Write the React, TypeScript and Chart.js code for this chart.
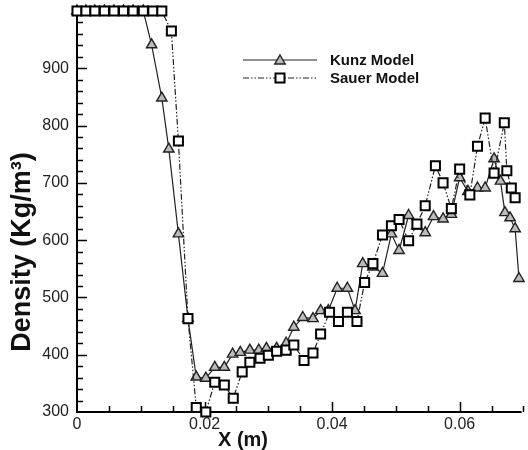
import React, { useEffect, useRef } from 'react';
import { Chart, registerables } from 'chart.js';

Chart.register(...registerables);

// ---- Data ----
const kunzX = [0, 0.0014, 0.0028, 0.0043, 0.0058, 0.0073, 0.0088, 0.0104, 0.0117, 0.0133, 0.0144, 0.0159, 0.0174, 0.0187, 0.0202, 0.0216, 0.0231, 0.0244, 0.0256, 0.0271, 0.0285, 0.0297, 0.0313, 0.0328, 0.034, 0.0354, 0.037, 0.0382, 0.0394, 0.0408, 0.0424, 0.0436, 0.0448, 0.0464, 0.0479, 0.0493, 0.0505, 0.052, 0.0533, 0.0546, 0.0559, 0.0574, 0.0587, 0.06, 0.0613, 0.0628, 0.064, 0.0654, 0.0664, 0.0671, 0.0679, 0.0687, 0.0693];
const kunzY = [1000, 1000, 1000, 1000, 1000, 1000, 1000, 1000, 941, 848, 759, 611, 463, 361, 359, 378, 378, 401, 404, 408, 408, 411, 411, 420, 448, 465, 463, 477, 477, 516, 516, 477, 559, 553, 542, 611, 582, 643, 625, 613, 641, 637, 645, 709, 685, 691, 691, 742, 703, 648, 639, 620, 533];

const sauerX = [0, 0.0014, 0.0028, 0.0043, 0.0058, 0.0073, 0.0088, 0.0104, 0.0119, 0.0133, 0.0148, 0.0159, 0.0174, 0.0187, 0.0202, 0.0216, 0.0231, 0.0245, 0.0259, 0.0271, 0.0287, 0.03, 0.0313, 0.0328, 0.034, 0.0356, 0.037, 0.0382, 0.0396, 0.041, 0.0424, 0.0439, 0.0451, 0.0464, 0.0479, 0.0493, 0.0505, 0.052, 0.0533, 0.0546, 0.0562, 0.0574, 0.0587, 0.06, 0.0616, 0.0628, 0.064, 0.0654, 0.067, 0.0674, 0.0681, 0.0687];
const sauerY = [1000, 1000, 1000, 1000, 1000, 1000, 1000, 1000, 1000, 1000, 965, 773, 463, 308, 300, 352, 347, 324, 370, 387, 394, 399, 406, 408, 417, 390, 403, 436, 474, 458, 474, 458, 526, 559, 609, 625, 636, 599, 628, 660, 730, 700, 655, 724, 679, 764, 813, 717, 805, 721, 691, 674];

const seriesNames = ['Kunz Model', 'Sauer Model'];
const xMajorTicks = [0, 0.02, 0.04, 0.06];
const xMinorStep = 0.005;
const yMajorTicks = [300, 400, 500, 600, 700, 800, 900, 1000];
const yLabelTicks = [300, 400, 500, 600, 700, 800, 900];
const yMinorStep = 20;
const xRange = [0, 0.0694];
const yRange = [300, 1000];
const xTitle = 'X (m)';
const yTitle = 'Density (Kg/m\u00B3)';

const FONT = "Arial, 'Liberation Sans', sans-serif";
const SAUER_DASH = [6, 2, 1.5, 2, 1.5, 2];

function drawTriangle(ctx: CanvasRenderingContext2D, x: number, y: number, r: number) {
  ctx.beginPath();
  ctx.moveTo(x, y - r);
  ctx.lineTo(x + r * Math.sin((2 * Math.PI) / 3), y - r * Math.cos((2 * Math.PI) / 3));
  ctx.lineTo(x + r * Math.sin((4 * Math.PI) / 3), y - r * Math.cos((4 * Math.PI) / 3));
  ctx.closePath();
}

const decorPlugin = {
  id: 'decor',
  beforeDatasetsDraw(chart: any) {
    const ctx: CanvasRenderingContext2D = chart.ctx;
    const { left, right, top, bottom } = chart.chartArea;
    const xs = chart.scales.x;
    const ys = chart.scales.y;
    ctx.save();
    ctx.strokeStyle = '#000';
    ctx.lineWidth = 2;
    ctx.beginPath();
    ctx.moveTo(left, top);
    ctx.lineTo(left, bottom);
    ctx.lineTo(right + 2, bottom);
    ctx.stroke();
    ctx.lineWidth = 1.5;
    // x ticks (inward)
    const nx = Math.round((xRange[1] - xRange[0]) / xMinorStep);
    for (let i = 1; i <= nx; i++) {
      const v = xRange[0] + i * xMinorStep;
      const px = Math.round(xs.getPixelForValue(v)) + 0.5;
      const isMajor = xMajorTicks.some((m) => Math.abs(m - v) < 1e-9);
      const len = isMajor ? 10 : 6;
      ctx.beginPath();
      ctx.moveTo(px, bottom);
      ctx.lineTo(px, bottom - len);
      ctx.stroke();
    }
    // y ticks (inward)
    for (let v = yRange[0] + yMinorStep; v <= yRange[1] + 1e-9; v += yMinorStep) {
      const py = Math.round(ys.getPixelForValue(v)) + 0.5;
      const isMajor = yMajorTicks.includes(v);
      const len = isMajor ? 10 : 6;
      ctx.beginPath();
      ctx.moveTo(left, py);
      ctx.lineTo(left + len, py);
      ctx.stroke();
    }
    ctx.restore();
  },
  afterDraw(chart: any) {
    const ctx: CanvasRenderingContext2D = chart.ctx;
    ctx.save();
    ctx.fillStyle = '#111';
    // axis titles
    ctx.font = `bold 20px ${FONT}`;
    ctx.textAlign = 'center';
    ctx.textBaseline = 'middle';
    ctx.fillText(xTitle, 243, 440);
    ctx.save();
    ctx.translate(23, 252);
    ctx.rotate(-Math.PI / 2);
    ctx.font = `bold 27px ${FONT}`;
    ctx.fillText(yTitle, 0, 0);
    ctx.restore();

    // legend
    const lx0 = 243, lx1 = 317, mx = 280;
    const rows = [60, 78];
    ctx.strokeStyle = '#222';
    ctx.lineWidth = 1.2;
    ctx.beginPath();
    ctx.moveTo(lx0, rows[0]);
    ctx.lineTo(lx1, rows[0]);
    ctx.stroke();
    drawTriangle(ctx, mx, rows[0] + 1, 6);
    ctx.fillStyle = '#bbb';
    ctx.fill();
    ctx.lineWidth = 1.4;
    ctx.stroke();

    ctx.setLineDash(SAUER_DASH);
    ctx.lineWidth = 1.2;
    ctx.beginPath();
    ctx.moveTo(lx0, rows[1]);
    ctx.lineTo(lx1, rows[1]);
    ctx.stroke();
    ctx.setLineDash([]);
    ctx.fillStyle = '#fff';
    ctx.strokeStyle = '#000';
    ctx.lineWidth = 2;
    ctx.fillRect(mx - 4.5, rows[1] - 4.5, 9, 9);
    ctx.strokeRect(mx - 4.5, rows[1] - 4.5, 9, 9);

    ctx.fillStyle = '#111';
    ctx.font = `bold 15px ${FONT}`;
    ctx.textAlign = 'left';
    ctx.textBaseline = 'middle';
    ctx.fillText(seriesNames[0], 330, rows[0] + 1);
    ctx.fillText(seriesNames[1], 330, rows[1] + 1);
    ctx.restore();
  },
};

export default function App() {
  const ref = useRef<HTMLCanvasElement | null>(null);

  useEffect(() => {
    if (!ref.current) return;
    const chart = new Chart(ref.current, {
      type: 'line',
      data: {
        datasets: [
          {
            label: seriesNames[0],
            data: kunzX.map((x, i) => ({ x, y: kunzY[i] })),
            borderColor: '#222',
            borderWidth: 1.2,
            pointStyle: 'triangle',
            pointRadius: 6,
            pointBorderWidth: 1.4,
            pointBorderColor: '#222',
            pointBackgroundColor: '#bbb',
            tension: 0,
            clip: false,
            order: 2,
          },
          {
            label: seriesNames[1],
            data: sauerX.map((x, i) => ({ x, y: sauerY[i] })),
            borderColor: '#222',
            borderWidth: 1.2,
            borderDash: SAUER_DASH,
            pointStyle: 'rect',
            pointRadius: 6.4,
            pointBorderWidth: 2,
            pointBorderColor: '#000',
            pointBackgroundColor: '#fff',
            tension: 0,
            clip: false,
            order: 1,
          },
        ],
      },
      options: {
        animation: false,
        responsive: false,
        devicePixelRatio: 1,
        layout: { padding: { top: 11, left: 0, right: 0, bottom: 0 } },
        plugins: { legend: { display: false }, tooltip: { enabled: false } },
        scales: {
          x: {
            type: 'linear',
            min: xRange[0],
            max: xRange[1],
            grid: { display: false, drawTicks: false },
            border: { display: false },
            afterBuildTicks: (s: any) => {
              s.ticks = xMajorTicks.map((v) => ({ value: v }));
            },
            afterFit: (s: any) => {
              s.height = 38;
              s.paddingLeft = 0;
              s.paddingRight = 0;
            },
            ticks: {
              padding: 3,
              color: '#222',
              font: { family: FONT, size: 16 },
              maxRotation: 0,
              callback: (v: any) => (Number(v) === 0 ? '0' : Number(v).toFixed(2)),
            },
          },
          y: {
            type: 'linear',
            min: yRange[0],
            max: yRange[1],
            grid: { display: false, drawTicks: false },
            border: { display: false },
            afterBuildTicks: (s: any) => {
              s.ticks = yLabelTicks.map((v) => ({ value: v }));
            },
            afterFit: (s: any) => {
              s.width = 77;
              s.paddingTop = 0;
              s.paddingBottom = 0;
            },
            ticks: {
              padding: 8,
              color: '#222',
              font: { family: FONT, size: 16 },
              callback: (v: any) => String(v),
            },
          },
        },
      },
      plugins: [decorPlugin],
    } as any);
    return () => chart.destroy();
  }, []);

  return (
    <div style={{ position: 'absolute', left: 0, top: 0, width: 528, height: 450, background: '#fff' }}>
      <canvas ref={ref} width={528} height={450} style={{ width: 528, height: 450, display: 'block' }} />
    </div>
  );
}
